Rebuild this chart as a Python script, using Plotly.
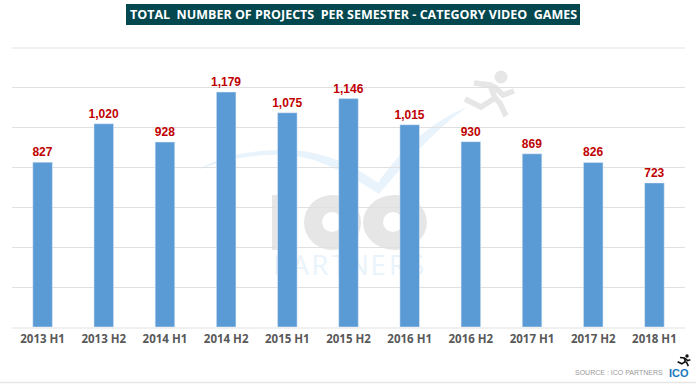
import plotly.graph_objects as go

categories = ["2013 H1", "2013 H2", "2014 H1", "2014 H2", "2015 H1", "2015 H2",
              "2016 H1", "2016 H2", "2017 H1", "2017 H2", "2018 H1"]
projects = [827, 1020, 928, 1179, 1075, 1146, 1015, 930, 869, 826, 723]
title_text = "TOTAL\u00a0 NUMBER OF PROJECTS\u00a0 PER SEMESTER - CATEGORY VIDEO\u00a0 GAMES"
watermark_letters = list("PARTNERS")

W, H = 696, 384
L, R, T, B = 12, 685, 48, 327


def px(x):
    return (x - L) / (R - L)


def py(y):
    return (B - y) / (B - T)


def path(points, close=False):
    s = "M" + " L".join(f"{px(x):.5f},{py(y):.5f}" for x, y in points)
    return s + (" Z" if close else "")


def ellipse(x0, y0, x1, y1, color, layer="below"):
    return dict(type="circle", xref="paper", yref="paper", layer=layer,
                x0=px(x0), x1=px(x1), y0=py(y0), y1=py(y1),
                fillcolor=color, line=dict(width=0))


def runner(ox, oy, k, color, width):
    """Runner pictogram, drawn relative to its own head position."""
    limbs = [
        [(-27, 6), (-11, 8), (-6, 21)],
        [(-6, 21), (-20, 30), (-36, 22)],
        [(-6, 21), (-1, 26), (5, 39)],
        [(-11, 8), (-5, 11), (2, 18), (13, 14)],
    ]
    out = [ellipse(ox - 6.5 * k, oy - 6.5 * k, ox + 6.5 * k, oy + 6.5 * k, color)]
    for limb in limbs:
        out.append(dict(type="path", xref="paper", yref="paper", layer="below",
                        path=path([(ox + a * k, oy + b * k) for a, b in limb]),
                        line=dict(color=color, width=width)))
    return out


shapes = []
shapes.append(dict(type="rect", xref="paper", yref="paper", layer="below",
                   x0=px(126), x1=px(580), y0=py(4), y1=py(25),
                   fillcolor="#03474f", line=dict(width=0)))
shapes.append(dict(type="line", xref="paper", yref="paper", layer="below",
                   x0=px(0), x1=px(696), y0=py(382.5), y1=py(382.5),
                   line=dict(color="#e6e6e6", width=1.5)))
shapes.append(dict(type="line", xref="paper", yref="paper", layer="below",
                   x0=0, x1=1, y0=1, y1=1,
                   line=dict(color="#f1f1f1", width=2)))
GREY = "#e6e6e6"
shapes.append(dict(type="rect", xref="paper", yref="paper", layer="below",
                   x0=px(272), x1=px(296), y0=py(195), y1=py(250),
                   fillcolor=GREY, line=dict(width=0)))
shapes.append(ellipse(304, 195, 361, 250, GREY))
shapes.append(ellipse(322, 212, 342, 232, "white"))
shapes.append(ellipse(363, 195, 427, 250, GREY))
shapes.append(ellipse(383, 212, 403, 232, "white"))
swoosh_pts = [
    (197, 170),
    (225, 154), (255, 150), (285, 150),
    (320, 150), (350, 163), (378, 183),
    (395, 158), (425, 124), (467, 107),
    (432, 132), (402, 167), (379, 194),
    (350, 175), (320, 157), (285, 155),
    (255, 154), (225, 159), (197, 170)]
p = [f"{px(x):.5f},{py(y):.5f}" for x, y in swoosh_pts]
swoosh = "M" + p[0]
for i in range(1, len(p), 3):
    swoosh += " C" + " ".join(p[i:i + 3])
swoosh += " Z"
shapes.append(dict(type="path", xref="paper", yref="paper", layer="below",
                   path=swoosh, fillcolor="#e9f3fb", line=dict(width=0)))
shapes += runner(501, 77, 1.0, GREY, 5.5)
shapes += runner(687, 356, 0.26, "#111111", 1.6)

annotations = [
    dict(text=f"<b>{title_text}</b>", xref="paper", yref="paper", x=px(353), y=py(14.5),
         showarrow=False, font=dict(family="Open Sans", size=12.5, color="white"),
         xanchor="center", yanchor="middle"),
    dict(text="SOURCE : ICO PARTNERS", xref="paper", yref="paper", x=px(665), y=py(372.5),
         showarrow=False, font=dict(family="Liberation Sans", size=7, color="#999999"),
         xanchor="right", yanchor="middle"),
    dict(text="<b>ICO</b>", xref="paper", yref="paper", x=px(678.5), y=py(372.5),
         showarrow=False, font=dict(family="Liberation Sans", size=11, color="#1b78bd"),
         xanchor="center", yanchor="middle"),
]

fig = go.Figure()
# Watermark word sits on the base axes (pixel-like scale) so the bars cover it.
fig.add_trace(go.Scatter(
    x=[281 + i * 19.4 for i in range(len(watermark_letters))],
    y=[268] * len(watermark_letters),
    text=watermark_letters, mode="text", hoverinfo="skip", cliponaxis=False,
    textposition="middle center",
    textfont=dict(family="Open Sans", size=27, color="#e9f3fb"),
    xaxis="x", yaxis="y",
))
fig.add_trace(go.Bar(
    x=categories, y=projects, xaxis="x2", yaxis="y2",
    marker=dict(color="#5b9bd5"),
    texttemplate="%{y:,}", textposition="outside", cliponaxis=False,
    constraintext="none", textangle=0,
    textfont=dict(family="Liberation Sans", size=12, color="#c00000", weight="bold"),
))
fig.update_layout(
    width=W, height=H, autosize=False,
    margin=dict(l=L, r=W - R, t=T, b=H - B),
    paper_bgcolor="white", plot_bgcolor="rgba(0,0,0,0)",
    bargap=0.68, showlegend=False,
    shapes=shapes, annotations=annotations,
    xaxis=dict(range=[L, R], visible=False),
    yaxis=dict(range=[B, T], visible=False),
    xaxis2=dict(overlaying="x", anchor="y2", side="bottom",
                tickfont=dict(family="Open Sans", size=11.5, color="#595959", weight="bold"),
                showline=True, linecolor="#f0f0f0", linewidth=2, ticks="", showgrid=False),
    yaxis2=dict(overlaying="y", anchor="x2", range=[0, 1400], dtick=200, showticklabels=False,
                gridcolor="#e0e0e0", gridwidth=1, zeroline=False, ticks=""),
)
fig.write_html("out.html", post_script="document.body.style.margin='0';",
               config=dict(displayModeBar=False))
